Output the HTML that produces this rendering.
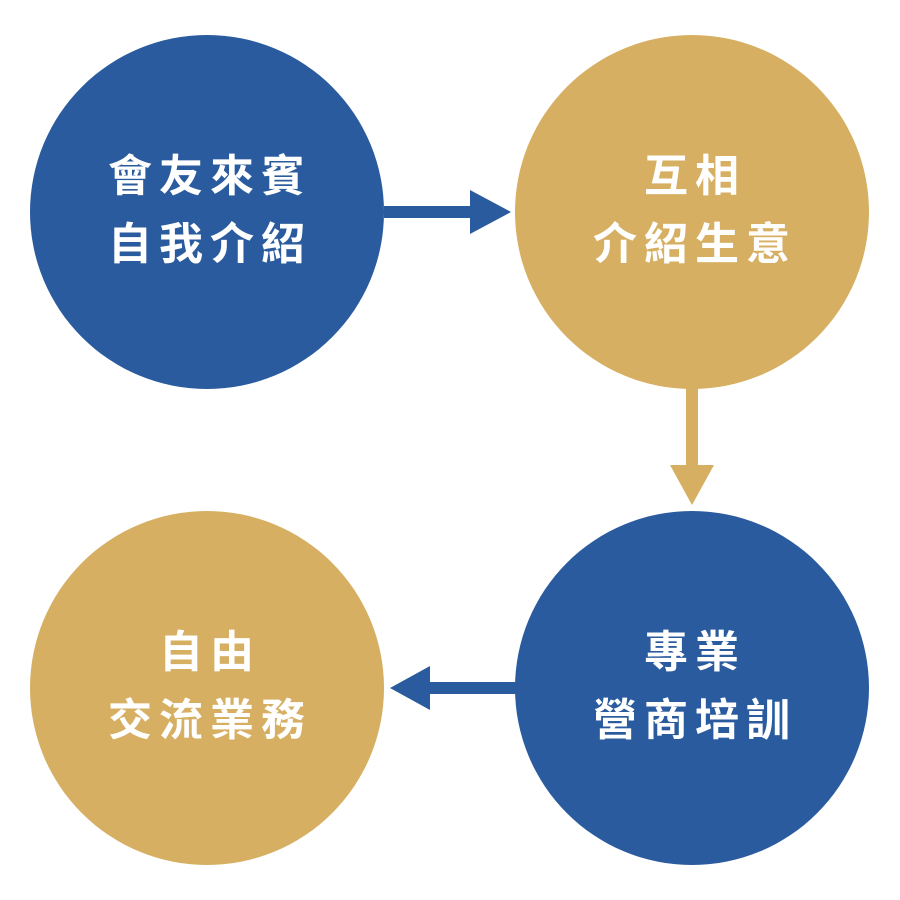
<!DOCTYPE html>
<html><head><meta charset="utf-8"><style>
html,body{margin:0;padding:0;background:#fff;width:900px;height:900px;overflow:hidden}
svg{display:block}
text{font-family:"Liberation Sans","Noto Sans CJK TC",sans-serif;font-weight:bold;font-size:44px;fill:#fff;letter-spacing:7px}
</style></head><body>
<svg width="900" height="900" viewBox="0 0 900 900">
<circle cx="207" cy="212" r="177" fill="#2a5b9e"/>
<circle cx="692" cy="212" r="177" fill="#d6af62"/>
<circle cx="207" cy="688" r="177" fill="#d6af62"/>
<circle cx="692" cy="688" r="177" fill="#2a5b9e"/>
<rect x="384" y="206" width="90" height="12" fill="#2a5b9e"/>
<polygon points="470,190 511,212 470,234" fill="#2a5b9e"/>
<rect x="686" y="388" width="12" height="80" fill="#d6af62"/>
<polygon points="670,465 714,465 692,505" fill="#d6af62"/>
<rect x="428" y="682" width="88" height="12" fill="#2a5b9e"/>
<polygon points="430,666 430,710 390,688" fill="#2a5b9e"/>
<text x="210" y="191" text-anchor="middle">會友來賓</text>
<text x="210" y="259" text-anchor="middle">自我介紹</text>
<text x="695" y="191" text-anchor="middle">互相</text>
<text x="695" y="259" text-anchor="middle">介紹生意</text>
<text x="210" y="667" text-anchor="middle">自由</text>
<text x="210" y="735" text-anchor="middle">交流業務</text>
<text x="695" y="667" text-anchor="middle">專業</text>
<text x="695" y="735" text-anchor="middle">營商培訓</text>
</svg>
</body></html>
